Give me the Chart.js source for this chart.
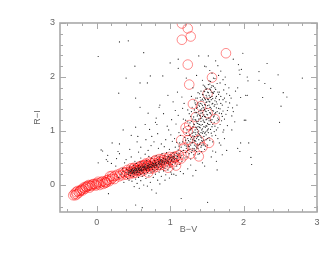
<!DOCTYPE html>
<html>
<head>
<meta charset="utf-8">
<script src="https://cdn.jsdelivr.net/npm/chart.js@4"></script>
<style>
	html, body { margin: 0; padding: 0; background: #fff; }
	canvas { display: block; }
</style>
</head>
<body>
<canvas id="chart" width="327" height="253"></canvas>
<script>
// tick values, integers get a label
const xTicks = [0, 1, 2, 3];
const yTicks = [0, 1, 2, 3];

// sparse stars around the sequence, [B-V, R-I]
const fieldStars = [
	[0.31,2.65],[0.43,2.67],[0.64,2.45],[0.02,2.38],[0.52,2.20],[0.40,1.98],[0.73,2.02],[0.90,2.02],[0.59,1.89],[0.69,1.89],
	[0.30,1.70],[0.53,1.61],[0.59,1.44],[0.85,1.44],[0.86,1.48],[0.70,1.33],[0.81,1.24],[0.80,1.16],[0.82,1.12],[0.53,1.07],
	[2.32,2.25],[2.21,2.10],[2.47,2.04],[2.80,1.98],[2.21,1.94],[2.29,1.88],[2.37,1.79],[2.54,1.71],[2.59,1.63],[2.26,1.62],
	[2.51,1.46],[2.49,1.16],[2.01,1.20],[2.03,1.20],[1.99,2.44],[1.86,2.33],[1.93,2.23],[1.39,2.39],[1.52,2.39],[1.11,2.33],
	[1.00,2.26],[1.11,2.16],[1.47,2.20],[1.49,2.19],[1.65,2.21],[1.69,2.11],[1.94,2.13],[1.97,2.14],[1.95,2.05],[2.05,2.00],
	[2.06,1.93],[1.75,2.00],[1.80,1.80],[1.92,1.80],[2.03,1.66],[1.96,1.62],[2.05,1.66],[1.86,1.36],[1.96,0.78],[2.07,0.78],
	[1.92,0.68],[1.95,0.62],[2.10,0.51],[2.11,0.38],[1.63,0.44],[1.64,0.28],[1.47,0.35],[1.31,0.17],[1.15,-0.25],[1.51,-0.32],
	[1.24,0.30],[1.14,0.25],[1.02,0.20],[1.05,0.20],[0.16,-0.16],[0.53,-0.37],[0.81,-0.15],[0.62,-0.42],[0.21,0.78],[0.06,0.65],
	[0.08,0.63],[0.02,0.41],[0.15,0.55],[0.13,0.47],[0.15,0.44],[0.31,0.76],[0.36,1.02],[0.55,0.80],[0.56,0.90],[0.60,0.70],
	[0.78,0.80],[0.75,0.90],[0.31,0.58],[0.29,0.62],[0.66,1.12],[0.72,1.03],[0.91,1.32],[0.96,1.09],[1.02,1.21],[1.07,1.38],
	[0.94,0.84],[1.01,0.93],[0.88,0.76],[0.70,0.64],[0.47,0.52],[0.40,0.47],[0.26,0.35],[0.20,0.40],[1.78,1.10],[1.84,1.02],
	[1.74,0.86],[1.69,0.74],[1.77,0.64],[1.71,0.56],[1.67,1.72],[1.72,1.58],[1.79,1.44],[1.83,1.61],[1.88,1.17],[1.91,1.48],
	[1.10,1.72],[1.04,1.54],[1.16,1.63],[0.97,1.66],[1.22,1.98],[1.31,1.80],[1.36,2.03],[1.62,2.30],[1.54,2.12],[1.44,1.94]
];

// extra scatter next to the band and branch
const looseStars = [
	[0.98,1.02],[1.03,0.81],[1.08,1.13],[1.12,0.97],[0.92,0.71],[1.06,0.86],[1.11,1.29],[1.17,1.42],[1.09,0.79],[1.19,1.51],
	[0.84,0.68],[0.74,0.73],[0.66,0.57],[0.57,0.61],[0.45,0.66],[0.38,0.41],[0.27,0.49],[0.83,0.95],[0.67,0.84],[0.47,0.92],
	[0.35,0.31],[0.51,-0.03],[0.58,-0.06],[0.69,-0.02],[0.75,-0.09],[0.86,0.02],[0.93,0.09],[0.99,0.13],[1.08,0.18],[1.18,0.21],
	[1.28,0.37],[1.35,0.27],[1.44,0.41],[1.56,0.52],[1.62,0.61],[1.73,1.02],[1.76,1.31],[1.70,1.19],[1.65,0.86],[1.58,0.63],
	[1.81,1.52],[1.85,1.43],[1.68,1.89],[1.61,1.97],[1.57,2.07],[1.47,1.83],[1.38,1.71],[1.29,1.64],[1.24,1.39],[1.18,1.22],
	[1.75,1.86],[1.72,1.95],[1.66,2.03],[1.89,1.74],[1.77,1.69],[0.44,0.09],[0.37,0.05],[0.60,0.50],[0.71,0.53],[0.52,0.44]
];

// thick band along the main sequence
const bandStars = [
	[0.30,0.14],[0.33,0.20],[0.36,0.25],[0.38,0.17],[0.40,0.23],[0.41,0.29],[0.42,0.12],[0.43,0.20],[0.44,0.27],[0.45,0.24],
	[0.45,0.33],[0.46,0.18],[0.47,0.22],[0.47,0.28],[0.48,0.07],[0.48,0.25],[0.49,0.31],[0.49,0.21],[0.50,0.27],[0.50,0.16],
	[0.50,0.36],[0.51,0.24],[0.51,0.29],[0.52,0.21],[0.52,0.33],[0.53,0.26],[0.53,0.11],[0.54,0.30],[0.54,0.23],[0.54,0.40],
	[0.55,0.27],[0.55,0.19],[0.55,0.03],[0.56,0.33],[0.56,0.25],[0.57,0.29],[0.57,0.36],[0.57,0.14],[0.58,0.23],[0.58,0.31],
	[0.59,0.27],[0.59,0.43],[0.60,0.34],[0.60,0.20],[0.60,0.08],[0.61,0.30],[0.61,0.26],[0.62,0.37],[0.62,0.16],[0.63,0.32],
	[0.63,0.24],[0.64,0.29],[0.64,0.41],[0.64,0.00],[0.65,0.35],[0.65,0.21],[0.66,0.30],[0.66,0.38],[0.67,0.12],[0.67,0.33],
	[0.68,0.27],[0.68,0.45],[0.69,0.36],[0.69,0.23],[0.70,0.31],[0.70,0.40],[0.71,0.17],[0.71,0.34],[0.72,0.38],[0.72,0.28],
	[0.73,0.05],[0.73,0.43],[0.74,0.33],[0.74,0.24],[0.75,0.37],[0.75,0.50],[0.76,0.29],[0.76,0.41],[0.77,0.14],[0.77,0.35],
	[0.78,0.39],[0.78,0.26],[0.79,0.45],[0.79,0.32],[0.80,0.37],[0.80,0.20],[0.81,0.42],[0.81,0.54],[0.82,0.35],[0.82,0.29],
	[0.83,0.47],[0.83,0.09],[0.84,0.40],[0.84,0.33],[0.85,0.44],[0.85,0.24],[0.86,0.38],[0.86,0.52],[0.87,0.43],[0.87,0.30],
	[0.88,0.47],[0.88,0.16],[0.89,0.37],[0.89,0.58],[0.90,0.42],[0.90,0.33],[0.91,0.49],[0.91,0.26],[0.92,0.44],[0.92,0.39],
	[0.93,0.54],[0.93,0.31],[0.94,0.47],[0.94,0.19],[0.95,0.41],[0.95,0.60],[0.96,0.50],[0.96,0.35],[0.97,0.44],[0.97,0.28],
	[0.98,0.53],[0.98,0.39],[0.99,0.48],[0.99,0.66],[1.00,0.42],[1.00,0.33],[1.01,0.56],[1.01,0.24],[1.02,0.47],[1.03,0.52],
	[1.03,0.38],[1.04,0.60],[1.04,0.44],[1.05,0.30],[1.05,0.50],[1.06,0.56],[1.07,0.41],[1.07,0.70],[1.08,0.49],[1.09,0.59],
	[1.09,0.35],[1.10,0.53],[1.11,0.65],[1.11,0.45],[1.12,0.58],[1.13,0.38],[1.13,0.78],[1.14,0.51],[1.15,0.62],[1.16,0.44]
];

// dark core of the band, the black clump near B-V 0.5 to 0.9
const coreStars = [
	[0.43,0.24],[0.46,0.25],[0.48,0.29],[0.44,0.22],[0.50,0.24],[0.52,0.28],[0.47,0.27],[0.49,0.23],[0.53,0.31],[0.51,0.26],
	[0.55,0.30],[0.58,0.27],[0.54,0.28],[0.56,0.23],[0.59,0.32],[0.61,0.28],[0.57,0.31],[0.62,0.33],[0.60,0.29],[0.63,0.27],
	[0.65,0.32],[0.67,0.29],[0.64,0.34],[0.66,0.35],[0.68,0.31],[0.71,0.37],[0.69,0.33],[0.73,0.34],[0.70,0.36],[0.74,0.38],
	[0.76,0.36],[0.72,0.32],[0.78,0.35],[0.75,0.33],[0.80,0.40],[0.77,0.40],[0.82,0.38],[0.79,0.37],[0.84,0.43],[0.81,0.36],
	[0.86,0.41],[0.88,0.39],[0.85,0.37],[0.90,0.45],[0.87,0.46],[0.92,0.41],[0.94,0.44],[0.89,0.43],[0.96,0.46],[0.93,0.48],
	[0.98,0.43],[1.00,0.50],[0.97,0.52],[1.02,0.45],[1.04,0.49],[1.01,0.51],[1.06,0.47],[1.08,0.54],[1.05,0.53],[1.10,0.50]
];

// rising red branch
const branchStars = [
	[1.12,0.72],[1.14,0.92],[1.15,0.70],[1.16,0.55],[1.17,0.80],[1.18,0.64],[1.18,1.04],[1.19,0.50],[1.20,0.74],[1.20,0.88],
	[1.21,0.60],[1.21,1.20],[1.22,0.68],[1.22,0.96],[1.23,0.78],[1.23,0.52],[1.24,0.86],[1.24,0.64],[1.25,1.10],[1.25,0.72],
	[1.26,0.58],[1.26,0.92],[1.26,1.32],[1.27,0.80],[1.27,0.66],[1.28,1.02],[1.28,0.74],[1.28,0.48],[1.29,0.88],[1.29,1.18],
	[1.29,0.60],[1.30,0.96],[1.30,0.78],[1.30,1.44],[1.31,0.68],[1.31,1.08],[1.31,0.84],[1.32,0.56],[1.32,0.98],[1.32,1.26],
	[1.33,0.74],[1.33,0.90],[1.33,1.12],[1.33,1.56],[1.34,0.64],[1.34,1.02],[1.34,0.82],[1.34,1.34],[1.35,0.94],[1.35,0.72],
	[1.35,1.20],[1.35,0.50],[1.36,1.06],[1.36,0.86],[1.36,1.42],[1.36,0.62],[1.37,1.14],[1.37,0.98],[1.37,0.76],[1.37,1.28],
	[1.38,0.90],[1.38,1.52],[1.38,1.08],[1.38,0.68],[1.39,1.22],[1.39,0.84],[1.39,1.36],[1.39,1.00],[1.40,0.58],[1.40,1.12],
	[1.40,1.46],[1.40,0.94],[1.41,1.28],[1.41,0.78],[1.41,1.62],[1.41,1.06],[1.42,1.18],[1.42,0.88],[1.42,1.38],[1.42,0.70],
	[1.43,1.50],[1.43,1.02],[1.43,1.24],[1.43,0.82],[1.44,1.12],[1.44,1.68],[1.44,1.34],[1.44,0.96],[1.45,1.44],[1.45,0.76],
	[1.45,1.20],[1.45,1.56],[1.46,1.08],[1.46,1.30],[1.46,0.90],[1.46,1.74],[1.47,1.40],[1.47,1.16],[1.47,0.66],[1.47,1.60],
	[1.48,1.26],[1.48,0.98],[1.48,1.48],[1.48,1.80],[1.49,1.10],[1.49,1.36],[1.49,0.84],[1.49,1.66],[1.50,1.22],[1.50,1.54],
	[1.50,1.00],[1.50,1.42],[1.51,1.72],[1.51,1.30],[1.51,0.74],[1.51,1.14],[1.52,1.58],[1.52,1.86],[1.52,1.38],[1.52,1.04],
	[1.53,1.48],[1.53,1.24],[1.53,1.66],[1.53,0.88],[1.54,1.34],[1.54,1.78],[1.54,1.12],[1.54,1.54],[1.55,1.44],[1.55,1.92],
	[1.55,1.20],[1.55,1.62],[1.56,0.96],[1.56,1.30],[1.56,1.72],[1.57,1.50],[1.57,1.08],[1.57,1.84],[1.58,1.38],[1.58,1.60],
	[1.58,0.80],[1.59,1.26],[1.59,1.70],[1.59,1.98],[1.60,1.46],[1.60,1.16],[1.61,1.56],[1.61,1.80],[1.62,1.34],[1.62,0.92],
	[1.63,1.64],[1.63,1.02],[1.64,1.50],[1.64,1.88],[1.65,1.24],[1.65,1.72],[1.66,1.42],[1.67,1.58],[1.67,0.78],[1.68,1.12],
	[1.69,1.64],[1.70,1.32],[1.71,1.48],[1.72,0.98],[1.73,1.76],[1.74,1.22],[1.76,1.54],[1.78,1.38],[1.81,1.66],[1.84,1.28]
];

// second pass over the branch, the dark column above B-V 1.4
const columnStars = [
	[1.37,1.03],[1.44,1.27],[1.41,0.91],[1.49,1.53],[1.38,0.73],[1.46,1.17],[1.52,1.71],[1.43,0.87],[1.50,1.31],[1.40,1.07],
	[1.47,1.49],[1.35,0.81],[1.54,1.63],[1.42,1.11],[1.48,1.37],[1.33,0.67],[1.56,1.81],[1.45,0.99],[1.51,1.47],[1.39,0.95],
	[1.53,1.19],[1.36,1.17],[1.49,1.77],[1.43,1.41],[1.58,1.51],[1.41,1.23],[1.46,0.83],[1.55,1.33],[1.34,0.97],[1.50,1.09],
	[1.44,1.59],[1.38,1.31],[1.52,0.97],[1.47,1.27],[1.60,1.73],[1.40,0.75],[1.56,1.41],[1.42,1.33],[1.48,1.07],[1.31,0.79],
	[1.54,1.87],[1.45,1.67],[1.37,0.89],[1.51,1.59],[1.43,0.73],[1.57,1.21],[1.46,1.43],[1.39,1.13],[1.53,1.55],[1.35,1.07],
	[1.62,1.61],[1.49,0.93],[1.41,1.51],[1.55,1.03],[1.44,0.81],[1.32,0.87],[1.59,1.37],[1.47,1.73],[1.36,0.69],[1.50,1.79]
];

// third pass, breaks up the diagonal rows and widens the branch
const branchFill = [
	[1.34,1.21],[1.29,1.05],[1.46,1.62],[1.58,1.12],[1.63,1.43],[1.27,0.94],[1.52,1.24],[1.39,1.48],[1.61,1.09],[1.25,0.82],
	[1.44,1.04],[1.67,1.33],[1.33,1.39],[1.56,1.58],[1.31,0.91],[1.48,0.72],[1.64,1.19],[1.37,1.61],[1.23,1.02],[1.54,0.83],
	[1.42,1.57],[1.69,1.51],[1.28,1.27],[1.59,1.83],[1.35,1.49],[1.46,1.38],[1.61,1.32],[1.21,0.83],[1.51,0.86],[1.40,1.69],
	[1.66,1.68],[1.32,1.13],[1.56,1.16],[1.45,1.85],[1.27,1.15],[1.62,1.77],[1.38,1.18],[1.50,1.63],[1.71,1.27],[1.43,0.62],
	[1.57,0.91],[1.30,0.64],[1.65,1.06],[1.36,1.34],[1.53,1.93],[1.41,1.39],[1.60,1.28],[1.24,1.17],[1.47,0.96],[1.68,1.41],
	[1.33,0.82],[1.55,1.76],[1.42,0.97],[1.63,1.54],[1.29,1.36],[1.49,1.21],[1.38,0.57],[1.58,1.71],[1.35,1.61],[1.52,1.12],
	[1.74,1.61],[1.26,0.71],[1.44,1.47],[1.60,0.99],[1.40,1.29],[1.66,1.21],[1.31,1.22],[1.54,1.44],[1.46,0.74],[1.72,1.37],
	[1.37,1.44],[1.57,1.64],[1.22,0.72],[1.48,1.58],[1.64,1.36],[1.34,1.52],[1.51,1.02],[1.42,1.74],[1.61,1.49],[1.28,0.85]
];

// red circles, [B-V, R-I]
const ringStars = [
	[1.16,2.99],[1.24,2.90],[1.28,2.75],[1.16,2.69],[1.76,2.44],[1.24,2.23],[1.26,1.86],[1.57,1.99],[1.51,1.69],[1.31,1.50],
	[1.42,1.46],[1.35,1.26],[1.51,1.33],[1.61,1.22],[1.26,1.11],[1.21,1.06],[1.24,1.00],[1.32,0.98],[1.15,0.83],[1.24,0.83],
	[1.39,0.83],[1.53,0.78],[1.19,0.69],[1.30,0.70],[1.44,0.70],[1.39,0.53],[1.28,0.58],[1.19,0.55],[1.05,0.52],[0.96,0.49],
	[1.15,0.49],[1.08,0.36],[0.97,0.32],
	[-0.29,-0.19],[-0.32,-0.19],[-0.26,-0.11],[-0.22,-0.10],[-0.16,-0.07],[-0.12,-0.02],[-0.09,-0.01],[-0.02,0.01],[0.02,0.06],
	[0.09,0.02],[0.14,0.09],[0.18,0.16],[0.25,0.17],[0.32,0.21],[0.41,0.24],[0.50,0.30],[0.57,0.33],[0.64,0.35],[0.70,0.23],
	[0.80,0.46],[0.86,0.43],[0.70,0.36],[0.82,0.34],
	[-0.30,-0.16],[-0.27,-0.17],[-0.24,-0.14],[-0.20,-0.08],[-0.18,-0.05],[-0.14,-0.04],[-0.11,0.00],[-0.07,-0.02],[-0.04,0.02],
	[0.00,0.03],[0.04,0.00],[0.06,0.05],[0.11,0.06],[0.12,0.04],[0.16,0.10],[0.20,0.11],[0.22,0.14],[0.28,0.19],[0.34,0.18],
	[0.38,0.22],[0.42,0.28],[0.44,0.22],[0.46,0.26],[0.48,0.24],[0.52,0.27],[0.54,0.31],[0.56,0.26],[0.60,0.30],[0.62,0.36],
	[0.66,0.31],[0.68,0.38],[0.72,0.35],[0.74,0.40],[0.76,0.34],[0.78,0.41],[0.84,0.38],[0.88,0.47],[0.90,0.42],[0.92,0.50],
	[0.94,0.40],[1.00,0.47],[1.02,0.44],[1.06,0.50],[1.10,0.47],[1.12,0.55],[0.58,0.28],[0.50,0.22],[0.64,0.27],[0.72,0.42],[0.80,0.37],
	[-0.28,-0.13],[-0.23,-0.11],[-0.19,-0.10],[-0.15,-0.03],[-0.10,-0.05],[-0.06,0.01],[-0.01,-0.01],[0.03,0.03],[0.08,0.07],[0.13,0.05],
	[0.17,0.07],[0.21,0.17],[0.24,0.11],[0.30,0.16],[0.36,0.24],[0.40,0.19],[0.47,0.31],[0.53,0.23],[0.59,0.35],[0.63,0.31],
	[0.69,0.34],[0.75,0.37],[0.79,0.44],[0.83,0.41],[0.87,0.37],[0.91,0.46],[0.95,0.44],[0.99,0.52],[1.04,0.42],[1.08,0.53],
	[0.55,0.28],[0.61,0.25],[0.67,0.40],[0.73,0.30],[0.85,0.48],[0.93,0.36],[0.77,0.31],[0.65,0.37],[0.51,0.32],[0.45,0.20]
];

function toPoints(list) {
	return list.map(p => ({x: p[0], y: p[1]}));
}

const AXIS_GRAY = '#a9a9a9';

// frame and inward ticks on all four sides, placed through the scales
const frameTicks = {
	id: 'frameTicks',
	afterDatasetsDraw(chart) {
		const c = chart.ctx, a = chart.chartArea;
		const sx = chart.scales.x, sy = chart.scales.y;
		c.save();
		c.strokeStyle = AXIS_GRAY;
		c.lineWidth = 1;
		for (let i = -4; i <= 30; i += 2) {
			const px = Math.round(sx.getPixelForValue(i / 10)) + 0.5;
			const len = i % 10 === 0 ? 6 : 3;
			c.beginPath();
			c.moveTo(px, a.bottom); c.lineTo(px, a.bottom - len);
			c.moveTo(px, a.top); c.lineTo(px, a.top + len);
			c.stroke();
			const py = Math.round(sy.getPixelForValue(i / 10)) + 0.5;
			c.beginPath();
			c.moveTo(a.left, py); c.lineTo(a.left + len, py);
			c.moveTo(a.right, py); c.lineTo(a.right - len, py);
			c.stroke();
		}
		c.lineWidth = 1.6;
		c.strokeRect(a.left, a.top, a.right - a.left, a.bottom - a.top);
		c.restore();
	}
};

const labelFont = {family: '"Liberation Sans"', size: 9};
const dot = {pointRadius: 0.6, backgroundColor: '#1a1a1a', borderWidth: 0};

new Chart(document.getElementById('chart'), {
	type: 'scatter',
	plugins: [frameTicks],
	data: {
		datasets: [
			{data: toPoints(fieldStars), ...dot},
			{data: toPoints(looseStars), ...dot},
			{data: toPoints(bandStars), ...dot},
			{data: toPoints(coreStars), ...dot},
			{data: toPoints(branchStars), ...dot},
			{data: toPoints(columnStars), ...dot},
			{data: toPoints(branchFill), ...dot},
			{data: toPoints(ringStars), pointRadius: 4.8, backgroundColor: 'transparent', borderColor: 'rgba(255,0,0,0.45)', borderWidth: 1}
		]
	},
	options: {
		responsive: false,
		animation: false,
		layout: {padding: {top: 23, right: 10, left: 0, bottom: 0}},
		plugins: {legend: {display: false}, tooltip: {enabled: false}},
		scales: {
			x: {
				min: -0.5, max: 3,
				afterBuildTicks: s => { s.ticks = xTicks.map(v => ({value: v})); },
				afterFit: s => { s.height = 41; },
				grid: {display: false, drawTicks: false},
				border: {display: false},
				ticks: {color: '#666', font: labelFont, padding: 5, maxRotation: 0},
				title: {display: true, text: 'B\u2212V', color: '#666', font: labelFont, padding: {top: 0, bottom: 18}}
			},
			y: {
				min: -0.5, max: 3,
				afterBuildTicks: s => { s.ticks = yTicks.map(v => ({value: v})); },
				afterFit: s => { s.width = 60; },
				grid: {display: false, drawTicks: false},
				border: {display: false},
				ticks: {color: '#666', font: labelFont, padding: 5},
				title: {display: true, text: 'R\u2212I', color: '#666', font: labelFont, padding: {top: 32, bottom: 0}}
			}
		}
	}
});
</script>
</body>
</html>
